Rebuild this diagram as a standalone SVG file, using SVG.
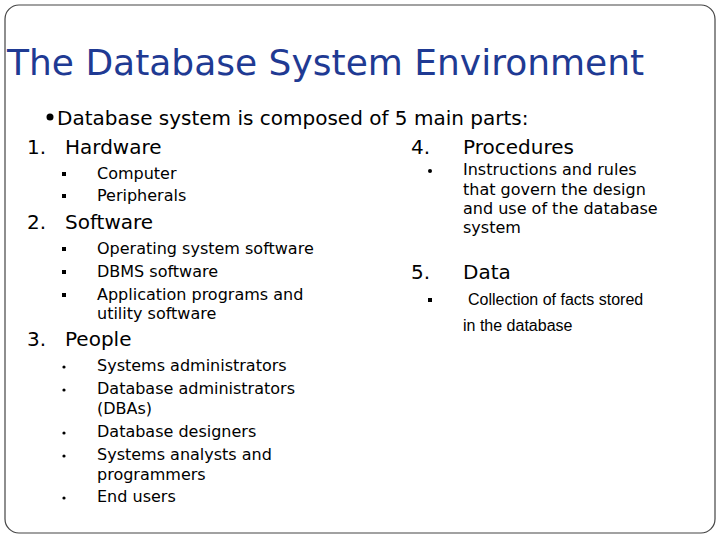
<svg xmlns="http://www.w3.org/2000/svg" width="720" height="540" viewBox="0 0 720 540">
<style>
text{font-family:"DejaVu Sans",Verdana,sans-serif;fill:#000}
.h{font-size:20px}
.s{font-size:16px}
.a{font-family:"Liberation Sans",Arial,sans-serif;font-size:16px}
</style>
<defs>
<rect id="sq" x="-2" y="-2" width="4" height="4" fill="#000"/>
<circle id="dt" r="1.6" fill="#000"/>
</defs>
<rect x="0" y="0" width="720" height="540" fill="#fff"/>
<rect x="5" y="5" width="710" height="528" rx="14" fill="none" stroke="#444" stroke-width="1.2"/>
<text x="7" y="75" style="font-size:36px;fill:#1f3a93">The Database System Environment</text>
<circle cx="50" cy="117" r="3.5" fill="#000"/>
<text x="57" y="125" class="h">Database system is composed of 5 main parts:</text>
<text x="27" y="154" class="h">1.</text><text x="65" y="154" class="h">Hardware</text>
<use href="#sq" x="64" y="174"/><text x="97" y="179" class="s">Computer</text>
<use href="#sq" x="64" y="196"/><text x="97" y="201" class="s">Peripherals</text>
<text x="27" y="229" class="h">2.</text><text x="65" y="229" class="h">Software</text>
<use href="#sq" x="64" y="249"/><text x="97" y="254" class="s">Operating system software</text>
<use href="#sq" x="64" y="272"/><text x="97" y="277" class="s">DBMS software</text>
<use href="#sq" x="64" y="295"/><text x="97" y="300" class="s">Application programs and</text>
<text x="97" y="319" class="s">utility software</text>
<text x="27" y="346" class="h">3.</text><text x="65" y="346" class="h">People</text>
<use href="#dt" x="64" y="367"/><text x="97" y="371" class="s">Systems administrators</text>
<use href="#dt" x="64" y="390"/><text x="97" y="394" class="s">Database administrators</text>
<text x="97" y="414" class="s">(DBAs)</text>
<use href="#dt" x="64" y="433"/><text x="97" y="437" class="s">Database designers</text>
<use href="#dt" x="64" y="456"/><text x="97" y="460" class="s">Systems analysts and</text>
<text x="97" y="480" class="s">programmers</text>
<use href="#dt" x="64" y="498"/><text x="97" y="502" class="s">End users</text>
<text x="411" y="154" class="h">4.</text><text x="463" y="154" class="h">Procedures</text>
<circle cx="430" cy="171" r="2" fill="#000"/>
<text x="463" y="175" class="s">Instructions and rules</text>
<text x="463" y="195" class="s">that govern the design</text>
<text x="463" y="214" class="s">and use of the database</text>
<text x="463" y="233" class="s">system</text>
<text x="411" y="279" class="h">5.</text><text x="463" y="279" class="h">Data</text>
<use href="#sq" x="430" y="300"/>
<text x="468" y="305" class="a">Collection of facts stored</text>
<text x="463" y="331" class="a">in the database</text>
</svg>
